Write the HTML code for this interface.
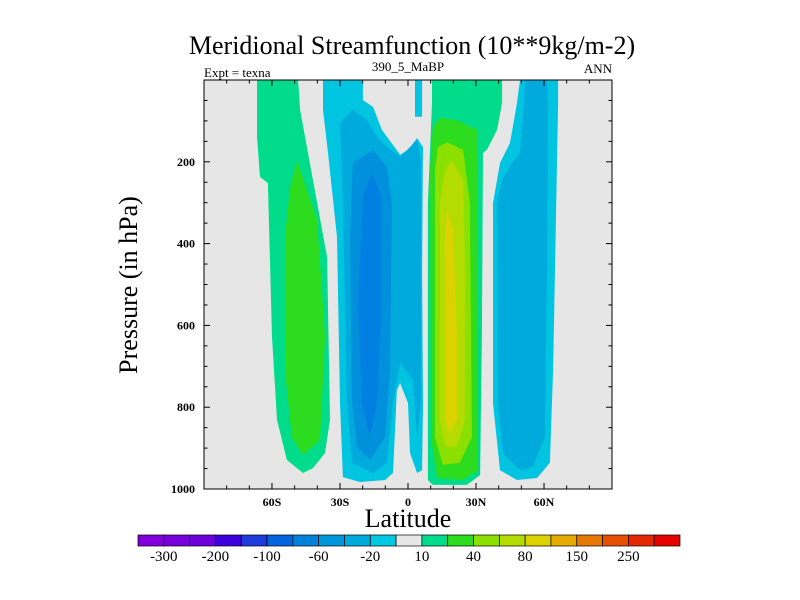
<!DOCTYPE html>
<html><head><meta charset="utf-8"><style>
html,body{margin:0;padding:0;background:#fff;}
svg{display:block;font-family:"Liberation Serif",serif;}
</style></head><body>
<svg id="chart" width="800" height="600" viewBox="0 0 800 600" xmlns="http://www.w3.org/2000/svg">
<text x="412" y="54" font-size="26" text-anchor="middle">Meridional Streamfunction (10**9kg/m-2)</text>
<text x="204" y="77" font-size="13">Expt = texna</text>
<text x="408" y="71" font-size="13" text-anchor="middle">390_5_MaBP</text>
<text x="612" y="73" font-size="13" text-anchor="end">ANN</text>
<text font-size="26" text-anchor="middle" transform="translate(137,285) rotate(-90)">Pressure (in hPa)</text>
<text x="408" y="527" font-size="26" text-anchor="middle">Latitude</text>
<g id="plot"></g>
<g id="cbar"></g>
</svg>
<script>
const levelColors = ["#00c4e0","#00aadc","#0090dc","#0080e0","#00dc8c","#2ddc1e","#00dc8c","#2ddc1e","#8ce000","#b4dc00","#dcd200","#00c4e0","#00aadc","#00c4e0"];
const contourNames = ["sh-cell-outer","sh-cell-2","sh-cell-3","sh-cell-4","sh-ferrel-outer","sh-ferrel-inner","nh-hadley-outer","nh-hadley-2","nh-hadley-3","nh-hadley-4","nh-hadley-core","nh-ferrel-outer","nh-ferrel-inner","equator-strip"];
const contourLat = [
 [-37.5,-19.9,-19.9,-15.4,-11.5,-3.5,0,4,6.6,6.2,6.6,6.2,4,0.9,0,-3.5,-4.9,-6.6,-10.1,-21.2,-28.7,-30,-31.3,-35.3,-37.5],
 [-24.3,-30,-28.7,-26.9,-24.7,-15.4,-9.3,-6.6,-3.5,2.2,4,5.7,5.7,4,-3.5,-9.3,-13.7,-18.1],
 [-15.4,-24.3,-25.6,-24.7,-22.5,-16.8,-10.1,-7.9,-7.1,-9.3],
 [-15.9,-19.9,-22.1,-20.3,-16.8,-13.7,-11.5,-11.5],
 [-66.6,-48.5,-47.6,-35.7,-34.4,-36.6,-41.9,-46.3,-53.4,-57.8,-60,-61.8,-65.3,-66.6],
 [-49,-40.1,-36.6,-38.8,-46.3,-51.2,-54.3,-54.3,-52],
 [10.6,41.5,41.5,39.3,34.8,33.1,32.6,31.8,26,11,8.8,8.8,10.6],
 [14.1,21.6,30.4,30.4,30.9,24.3,12.8,10.1,9.7,11],
 [17.2,24.3,27.3,28.2,22.9,15.4,11.9,11.9,13.2],
 [19.4,24.3,25.1,25.1,21.6,16.3,14.1,14.1,16.3],
 [17.2,19.9,21.6,21.6,18.5,16.3,16.3],
 [49.4,66.2,66.2,64,62.6,56.9,48.1,40.6,37.5,37.5,40.6,45,48.1],
 [51.6,61.3,61.8,61.3,60.4,55.1,49.4,41.9,39.7,39.3,41.5,45.9,49.4,51.2],
 [3.1,6.2,6.2,3.1]
];
const contourP = [
 [0,0,49,66,122,183,171,142,164,465,790,954,961,912,790,741,758,961,978,983,971,790,384,178,73],
 [73,105,301,790,936,961,936,790,692,733,873,782,196,147,188,164,139,98],
 [171,203,384,790,897,929,873,709,301,213],
 [225,286,545,790,873,790,545,286],
 [0,0,73,433,831,912,949,961,929,831,628,252,237,139],
 [196,342,628,880,917,873,709,384,262],
 [0,0,56,122,171,178,628,966,990,990,978,301,56],
 [93,98,122,220,954,978,973,873,220,115],
 [152,171,301,873,936,941,873,220,164],
 [196,244,465,831,897,897,831,301,220],
 [318,367,628,831,863,831,384],
 [0,0,56,709,936,973,978,954,790,301,203,154,56],
 [0,0,56,465,873,946,954,912,790,301,244,203,178,56],
 [0,0,90,90]
];
const drawOrder = [0,1,2,3,4,5,6,7,8,9,10,11,12,13];
const xTickVals = [-60,-30,0,30,60];
const xTickLabels = ["60S","30S","0","30N","60N"];
const yTickVals = [200,400,600,800,1000];
const yTickLabels = ["200","400","600","800","1000"];
const cbarColors = ["#8200dc","#7800dc","#6e00dc","#3c00dc","#1e3cdc","#0064dc","#0082dc","#0096dc","#00aadc","#00c8e0","#e6e6e6","#00dc8c","#2ddc1e","#8ce000","#b4dc00","#dcd200","#e6aa00","#e67800","#e65000","#e62800","#e60000"];
const cbarLabels = ["-300","-200","-100","-60","-20","10","40","80","150","250"];

const NS="http://www.w3.org/2000/svg";
const L=204,R=612,T=80,B=489;
function xs(lat){return 408+lat*2.267;}
function ys(p){return T+p*(B-T)/1000;}
function mk(tag,attrs,parent){const e=document.createElementNS(NS,tag);for(const k in attrs)e.setAttribute(k,attrs[k]);parent.appendChild(e);return e;}
const plot=document.getElementById('plot');
const bg=mk('rect',{x:L,y:T,width:R-L,height:B-T,fill:'#e6e6e6'},plot);


drawOrder.forEach(i=>{
  const pts=contourLat[i].map((la,j)=>xs(la).toFixed(1)+','+ys(contourP[i][j]).toFixed(1)).join(' ');
  const pg=mk('polygon',{points:pts,fill:levelColors[i],'stroke-linejoin':'round'},plot);
  
  
});
const fr=mk('rect',{x:L,y:T,width:R-L,height:B-T,fill:'none',stroke:'#000','stroke-width':1},plot);


for(let la=-80;la<=80;la+=10){
  const major=la%30===0; const len=major?6:3.5;
  mk('line',{x1:xs(la),x2:xs(la),y1:B,y2:B-len,stroke:'#000'},plot);
  mk('line',{x1:xs(la),x2:xs(la),y1:T,y2:T+len,stroke:'#000'},plot);
}
for(let p=50;p<1000;p+=50){
  const major=p%200===0; const len=major?6:3.5;
  mk('line',{x1:L,x2:L+len,y1:ys(p),y2:ys(p),stroke:'#000'},plot);
  mk('line',{x1:R,x2:R-len,y1:ys(p),y2:ys(p),stroke:'#000'},plot);
}
xTickVals.forEach((v,i)=>{
  const t=mk('text',{x:xs(v),y:B+17,'font-size':12,'font-weight':'bold','text-anchor':'middle'},plot);
  t.textContent=xTickLabels[i];
  
  
});
yTickVals.forEach((v,i)=>{
  const t=mk('text',{x:L-9,y:ys(v)+4,'font-size':12,'font-weight':'bold','text-anchor':'end'},plot);
  t.textContent=yTickLabels[i];
  
  
});
const cb=document.getElementById('cbar');
const cx0=138,cx1=680,cy=535,ch=11,bw=(cx1-cx0)/cbarColors.length;
cbarColors.forEach((c,i)=>{
  const r=mk('rect',{x:cx0+i*bw,y:cy,width:bw,height:ch,fill:c,stroke:'#000','stroke-width':0.7},cb);
  
  
});
cbarLabels.forEach((l,i)=>{
  const t=mk('text',{x:cx0+(2*i+1)*bw,y:cy+26,'font-size':15,'text-anchor':'middle'},cb);
  t.textContent=l;
  
  
});
</script>
</body></html>
